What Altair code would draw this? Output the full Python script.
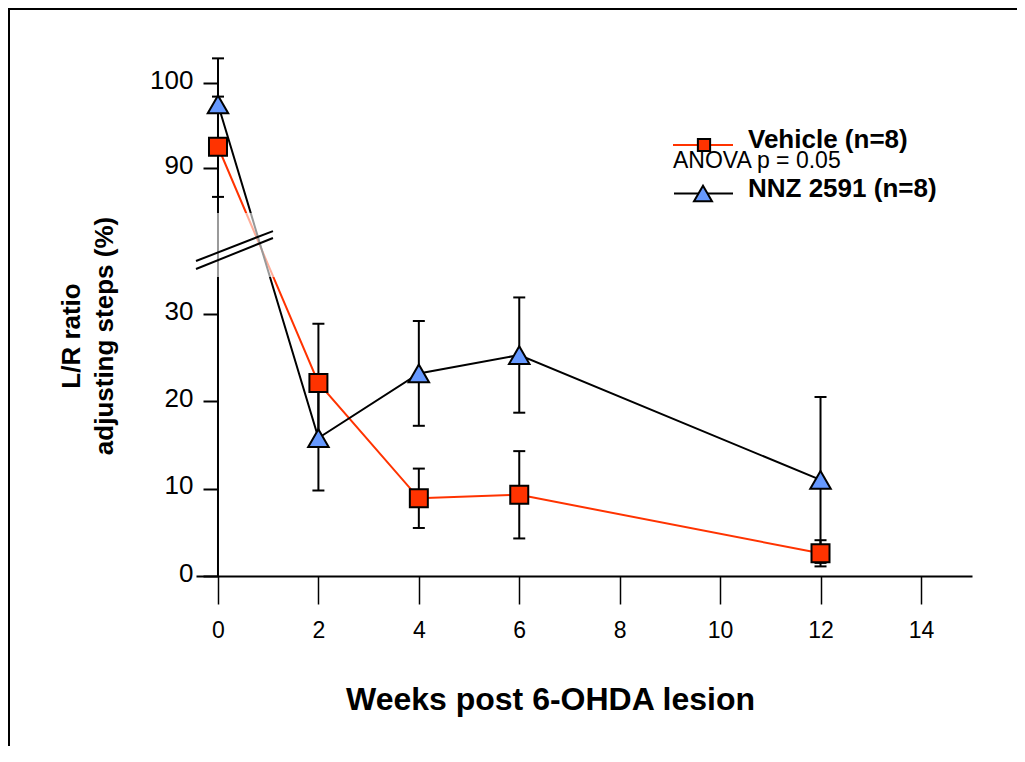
import altair as alt
import pandas as pd

# ---------------- data ----------------
weeks = [0, 2, 4, 6, 12]
vehicle_mean = [92.5, 22.1, 8.9, 9.3, 2.6]
vehicle_sem = [5.9, 6.8, 3.4, 5.0, 1.5]
nnz_mean = [97.5, 15.8, 23.2, 25.3, 11.0]
nnz_sem = [5.4, 6.0, 6.0, 6.6, 9.5]

x_ticks = [0, 2, 4, 6, 8, 10, 12, 14]
y_ticks = [0, 10, 20, 30, 90, 100]

series_names = ["Vehicle (n=8)", "NNZ 2591 (n=8)"]
x_title = "Weeks post 6-OHDA lesion"
y_title = ["L/R ratio", "adjusting steps (%)"]
stat_note = "ANOVA p = 0.05"

# ---------------- layout / scale settings ----------------
W, H = 776, 536
X_DOMAIN = [-0.438, 15.017]
Y_DOMAIN = [0, 34, 86, 105.06]          # broken axis: piecewise linear
Y_RANGE = [H, 239.1, 162, 0]
RED = "#FF3300"
BLUE = "#6699FF"
FONT = "Liberation Sans"

rows = []
for name, means, sems in [(series_names[0], vehicle_mean, vehicle_sem),
                          (series_names[1], nnz_mean, nnz_sem)]:
    for w, m, s in zip(weeks, means, sems):
        rows.append({"series": name, "week": w, "mean": m, "lo": m - s, "hi": m + s})
df = pd.DataFrame(rows)

xs = alt.Scale(domain=X_DOMAIN, nice=False, zero=False)
ys = alt.Scale(domain=Y_DOMAIN, range=Y_RANGE, nice=False, zero=False)

x_axis = alt.Axis(values=x_ticks, tickSize=28, tickWidth=1.5, tickColor="black",
                  domainColor="black", domainWidth=2, grid=False,
                  labelFont="Liberation Sans Narrow, Liberation Sans", labelFontSize=23,
                  labelColor="black", labelPadding=15, labelFlush=False, labelOverlap=False,
                  title=x_title, titleFont=FONT, titleFontSize=32, titleFontWeight="bold",
                  titleColor="black", titleX=354, titleY=133, titleAlign="center",
                  titleBaseline="alphabetic")
y_axis = alt.Axis(values=y_ticks, domain=False, tickSize=15, tickWidth=2, tickColor="black",
                  grid=False, labelFont=FONT, labelFontSize=26, labelColor="black",
                  labelPadding=10, labelOffset=-3, offset=-22, labelOverlap=False, title=" ")


def X(field):
    return alt.X(field, type="quantitative", scale=xs, axis=x_axis)


def Y(field):
    return alt.Y(field, type="quantitative", scale=ys, axis=y_axis)


# y axis line (drawn manually so the x axis can extend left of it)
axis_line = alt.Chart(pd.DataFrame({"x": [0], "y": [0], "y2": [100]})).mark_rule(
    color="black", strokeWidth=2).encode(x=X("x"), y=Y("y"), y2="y2:Q")

base = alt.Chart(df)
err = base.mark_rule(color="black", strokeWidth=2).encode(x=X("week"), y=Y("lo"), y2="hi:Q")
cap_lo = base.mark_tick(orient="horizontal", color="black", size=12, thickness=2, opacity=1).encode(
    x=X("week"), y=Y("lo"))
cap_hi = base.mark_tick(orient="horizontal", color="black", size=12, thickness=2, opacity=1).encode(
    x=X("week"), y=Y("hi"))

line_v = base.transform_filter(alt.datum.series == series_names[0]).mark_line(
    color=RED, strokeWidth=2).encode(x=X("week"), y=Y("mean"))
line_n = base.transform_filter(alt.datum.series == series_names[1]).mark_line(
    color="black", strokeWidth=2).encode(x=X("week"), y=Y("mean"))

# lighten the lines/axis crossing the break zone (dotted look)
zone = alt.Chart(pd.DataFrame({"x": [-0.12], "x2": [1.33], "y": [35.4], "y2": [78.6]})).mark_rect(
    color="white", opacity=0.6).encode(x=X("x"), x2="x2:Q", y=Y("y"), y2="y2:Q")

pts_v = base.transform_filter(alt.datum.series == series_names[0]).mark_point(
    shape="square", filled=True, fill=RED, stroke="black", strokeWidth=2, size=324,
    opacity=1).encode(x=X("week"), y=Y("mean"))
pts_n = base.transform_filter(alt.datum.series == series_names[1]).mark_point(
    shape="triangle-up", filled=True, fill=BLUE, stroke="black", strokeWidth=2, size=420,
    opacity=1).encode(x=X("week"), y=Y("mean"))

# axis break marks
breaks = alt.Chart(pd.DataFrame({"x": [-0.438, -0.438], "x2": [1.095, 1.095],
                                 "y": [46.2, 40.8], "y2": [66.4, 61.7]})).mark_rule(
    color="black", strokeWidth=2).encode(x=X("x"), x2="x2:Q", y=Y("y"), y2="y2:Q")


def text_layer(txt, x, y, size, weight="normal", angle=0, align="left", baseline="alphabetic"):
    return alt.Chart(pd.DataFrame({"t": [txt]})).mark_text(
        font=FONT, fontSize=size, fontWeight=weight, angle=angle, align=align,
        baseline=baseline, color="black").encode(
        x=alt.value(x), y=alt.value(y), text="t:N")


# y-axis title (two lines, rotated)
ytitle1 = text_layer(y_title[0], -124, 296, 26, "bold", 270, "center", "middle")
ytitle2 = text_layer(y_title[1], -91, 296, 26, "bold", 270, "center", "middle")

# legend
one = pd.DataFrame({"k": [0]})
leg_line_v = alt.Chart(one).mark_rule(color=RED, strokeWidth=2).encode(
    x=alt.value(477), x2=alt.value(537), y=alt.value(105))
leg_pt_v = alt.Chart(one).mark_point(shape="square", filled=True, fill=RED, stroke="black",
                                     strokeWidth=2, size=150, opacity=1).encode(
    x=alt.value(508), y=alt.value(105))
leg_line_n = alt.Chart(one).mark_rule(color="black", strokeWidth=2).encode(
    x=alt.value(478), x2=alt.value(537), y=alt.value(153.5))
leg_pt_n = alt.Chart(one).mark_point(shape="triangle-up", filled=True, fill=BLUE, stroke="black",
                                     strokeWidth=2, size=324, opacity=1).encode(
    x=alt.value(507), y=alt.value(153.5))
leg_t_v = text_layer(series_names[0], 552, 108, 26, "bold")
leg_t_a = text_layer(stat_note, 477, 128, 23)
leg_t_n = text_layer(series_names[1], 552, 157, 26, "bold")

# frame border (top / left)
border_top = alt.Chart(one).mark_rule(color="black", strokeWidth=2).encode(
    x=alt.value(-188), x2=alt.value(W + 45), y=alt.value(-31))
border_left = alt.Chart(one).mark_rule(color="black", strokeWidth=2).encode(
    x=alt.value(-187), y=alt.value(-32), y2=alt.value(H + 170))

chart = alt.layer(
    axis_line, err, cap_lo, cap_hi, line_v, line_n, zone, breaks, pts_v, pts_n,
    ytitle1, ytitle2, leg_line_v, leg_pt_v, leg_line_n, leg_pt_n,
    leg_t_v, leg_t_a, leg_t_n, border_top, border_left
).properties(
    width=W, height=H,
    padding={"left": 188, "top": 32, "right": 45, "bottom": 170},
    autosize=alt.AutoSizeParams(type="none"),
    background="white"
).configure(
    font=FONT,
    view=alt.ViewConfig(stroke="transparent", strokeWidth=0)
)

chart.save("out.html", embed_options={"renderer": "svg", "actions": False})
